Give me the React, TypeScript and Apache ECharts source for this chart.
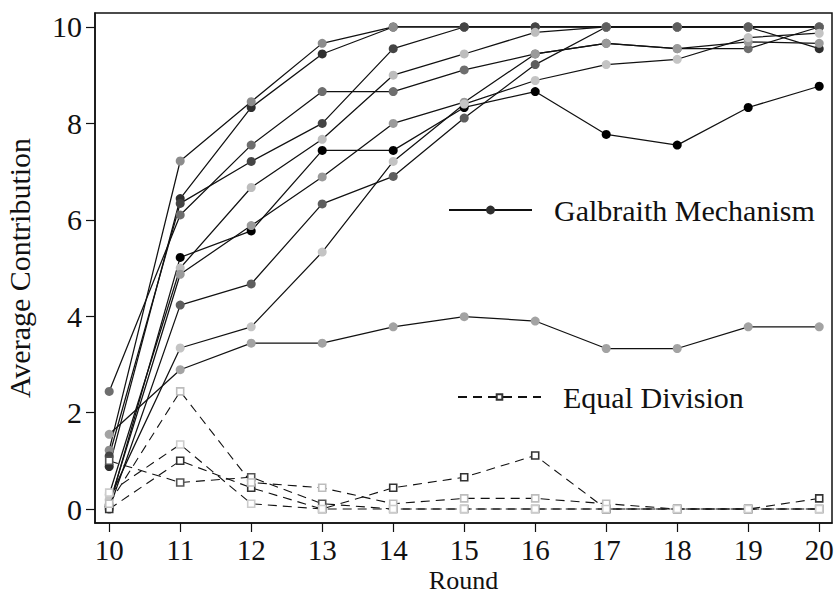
import React, { useEffect, useRef } from "react";
import * as echarts from "echarts";

// ---- data ----
const rounds = [10, 11, 12, 13, 14, 15, 16, 17, 18, 19, 20];
const xTickLabels = [10, 11, 12, 13, 14, 15, 16, 17, 18, 19, 20];
const yTickLabels = [0, 2, 4, 6, 8, 10];

const gm1 = [0.88, 6.44, 8.33, 9.44, 10, 10, 10, 10, 10, 10, 9.55];
const gm2 = [1.22, 7.22, 8.45, 9.66, 10, 10, 10, 10, 10, 10, 10];
const gm3 = [1.1, 6.34, 7.21, 8.0, 9.55, 10, 10, 10, 10, 10, 10];
const gm4 = [2.44, 6.1, 7.55, 8.66, 8.66, 9.11, 9.44, 9.66, 9.55, 9.55, 10];
const gm5 = [0.05, 5.22, 5.77, 7.44, 7.44, 8.33, 8.66, 7.77, 7.55, 8.33, 8.77];
const gm6 = [0.3, 5.0, 6.67, 7.67, 9.0, 9.44, 9.89, 10, 10, 10, 10];
const gm7 = [0.1, 4.87, 5.88, 6.89, 8.0, 8.44, 9.44, 9.66, 9.55, 9.69, 9.66];
const gm8 = [0.0, 4.23, 4.67, 6.33, 6.9, 8.11, 9.22, 10, 10, 10, 10];
const gm9 = [0.2, 3.34, 3.78, 5.33, 7.21, 8.4, 8.89, 9.22, 9.33, 9.78, 9.87];
const gm10 = [1.55, 2.89, 3.44, 3.44, 3.78, 3.99, 3.9, 3.33, 3.33, 3.78, 3.78];

const ed1 = [0, 1.0, 0.44, 0, 0.44, 0.66, 1.11, 0, 0, 0, 0.22];
const ed2 = [1.0, 0.55, 0.66, 0.11, 0, 0, 0, 0, 0, 0, 0];
const ed3 = [0.11, 2.44, 0.55, 0.44, 0.11, 0.22, 0.22, 0.11, 0, 0, 0];
const ed4 = [0.34, 1.34, 0.11, 0, 0, 0, 0, 0, 0, 0, 0];

const gmName = "Galbraith Mechanism";
const edName = "Equal Division";

// ---- styles ----
const gmSets = [gm1, gm2, gm3, gm4, gm5, gm6, gm7, gm8, gm9, gm10];
const gmColors = ["#2e2e2e", "#8c8c8c", "#444444", "#6e6e6e", "#000000", "#bdbdbd", "#9a9a9a", "#5e5e5e", "#c4c4c4", "#a3a3a3"];
const edSets = [ed1, ed2, ed3, ed4];
const edColors = ["#333333", "#555555", "#bdbdbd", "#cccccc"];

const FONT = "'Liberation Serif', 'Times New Roman', serif";
const INK = "#111111";

export default function App() {
  const ref = useRef<HTMLDivElement>(null);

  useEffect(() => {
    if (!ref.current) return;
    const chart = echarts.init(ref.current, null, { renderer: "svg" });

    const gmSeries = gmSets.map((vals, k) => ({
      type: "line",
      name: gmName,
      data: rounds.map((r, i) => [r, vals[i]]),
      symbol: "circle",
      symbolSize: 9,
      showSymbol: true,
      lineStyle: { color: INK, width: 1.25 },
      itemStyle: { color: gmColors[k], borderWidth: 0 },
      emphasis: { disabled: true },
      silent: true,
      z: 2,
    }));

    const edSeries = edSets.map((vals, k) => ({
      type: "line",
      name: edName,
      data: rounds.map((r, i) => [r, vals[i]]),
      symbol: "rect",
      symbolSize: 7,
      showSymbol: true,
      lineStyle: { color: INK, width: 1.1, type: [9, 6] },
      itemStyle: { color: "#ffffff", borderColor: edColors[k], borderWidth: 1.6 },
      emphasis: { disabled: true },
      silent: true,
      z: 3,
    }));

    const legendText = {
      fontFamily: FONT,
      fontSize: 30,
      color: INK,
      padding: [0, 0, 0, 17],
    };

    chart.setOption({
      animation: false,
      backgroundColor: "#ffffff",
      textStyle: { fontFamily: FONT },
      grid: {
        left: 95,
        right: 5,
        top: 13,
        bottom: 72,
        containLabel: false,
        outerBoundsMode: "none",
        show: true,
        borderColor: INK,
        borderWidth: 1.5,
        backgroundColor: "transparent",
      },
      legend: [
        {
          data: [gmName],
          left: 448,
          top: 195,
          padding: 0,
          itemWidth: 83,
          itemHeight: 11,
          selectedMode: false,
          textStyle: legendText,
        },
        {
          data: [edName],
          left: 457,
          top: 382,
          padding: 0,
          itemWidth: 83,
          itemHeight: 7,
          selectedMode: false,
          textStyle: legendText,
        },
      ],
      xAxis: {
        type: "value",
        min: 9.8,
        max: 20.18,
        name: "Round",
        nameLocation: "middle",
        nameGap: 47,
        nameMoveOverlap: false,
        nameTextStyle: { fontFamily: FONT, fontSize: 26, color: INK, lineHeight: 20 },
        axisLine: { show: true, onZero: false, lineStyle: { color: INK, width: 1.5 } },
        axisTick: { show: true, length: 9, lineStyle: { color: INK, width: 1.2 }, customValues: xTickLabels },
        axisLabel: { fontFamily: FONT, fontSize: 29, color: INK, margin: 14.5, lineHeight: 24, customValues: xTickLabels },
        splitLine: { show: false },
      },
      yAxis: {
        type: "value",
        min: -0.29,
        max: 10.29,
        name: "Average Contribution",
        nameLocation: "middle",
        nameGap: 61,
        nameMoveOverlap: false,
        nameTextStyle: { fontFamily: FONT, fontSize: 30, color: INK },
        axisLine: { show: true, onZero: false, lineStyle: { color: INK, width: 1.5 } },
        axisTick: { show: true, length: 9, lineStyle: { color: INK, width: 1.2 }, customValues: yTickLabels },
        axisLabel: { fontFamily: FONT, fontSize: 30, color: INK, margin: 13, customValues: yTickLabels },
        splitLine: { show: false },
      },
      series: [...gmSeries, ...edSeries],
    });

    return () => chart.dispose();
  }, []);

  return (
    <div
      ref={ref}
      style={{ position: "fixed", left: 0, top: 0, width: 837, height: 595, background: "#fff" }}
    />
  );
}
